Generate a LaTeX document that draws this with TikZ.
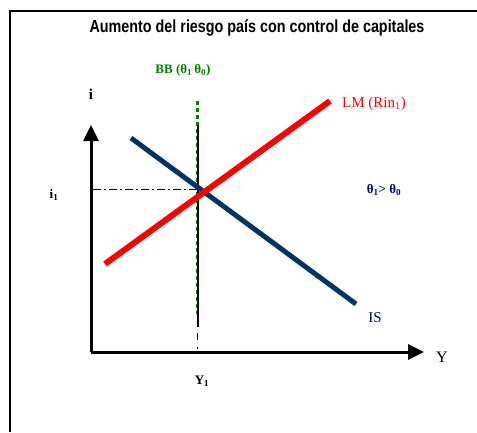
\documentclass[tikz,border=0pt]{standalone}
\usepackage{fontspec}
\setmainfont{Liberation Serif}
\newfontfamily\titlefont[FakeStretch=0.82]{Liberation Sans}
\usetikzlibrary{arrows.meta}
\definecolor{isblue}{RGB}{0,51,102}
\definecolor{navytext}{RGB}{0,0,128}
\definecolor{bbgreen}{RGB}{0,128,0}
\tikzset{
  axis/.style={line width=3pt,-{Triangle[length=16pt,width=15pt]}},
  lbl/.style={inner sep=0pt,font=\fontsize{15}{17}\selectfont},
  blbl/.style={inner sep=0pt,font=\fontsize{13}{15}\selectfont\bfseries}
}
\begin{document}
\begin{tikzpicture}[x=1pt,y=-1pt]
\useasboundingbox (0,0) rectangle (477,432);
\fill[white] (0,0) rectangle (477,432);
% frame
\draw[line width=2pt] (10,432) -- (10,11) -- (477,11);
\node[inner sep=0pt,font=\titlefont\bfseries\fontsize{17.5}{19}\selectfont] (title) at (257,28) {Aumento del riesgo país con control de capitales};
% axes
\coordinate (O) at (91,352);
\coordinate (ytip) at (91,125);
\coordinate (xtip) at (424,352);
\draw[axis] (O) -- (ytip);
\draw[axis] (O) -- (xtip);
\node[inner sep=0pt,font=\fontsize{15}{17}\selectfont\bfseries] (ilab) at (91,94) {i};
\node[inner sep=0pt,font=\fontsize{16}{18}\selectfont] (ylab) at (442,357) {Y};
% BB line
\coordinate (bbtop) at (197.5,101);
\coordinate (bbbot) at (197.5,314);
\coordinate (vtop) at (197.8,125);
\coordinate (vbot) at (197.8,327);
\coordinate (vend) at (197.8,350);
\draw[bbgreen,line width=3pt,dash pattern=on 3.5pt off 3.5pt] (bbtop) -- (bbbot);
\draw[black,line width=1.5pt] (vtop) -- (vbot);
\draw[black,line width=1.2pt,dash pattern=on 7pt off 7pt on 1.5pt off 10pt] ([yshift=-6pt]vbot) -- (vend);
% dash-dot horizontal
\coordinate (hl) at (93,189);
\coordinate (hr) at (198,189);
\draw[line width=1pt,dash pattern=on 8pt off 3pt on 2pt off 3pt] (hl) -- (hr);
% LM and IS
\coordinate (lma) at (105,264);
\coordinate (lmb) at (330,101);
\coordinate (isa) at (131,138);
\coordinate (isb) at (356,304);
\draw[isblue,line width=5pt] (isa) -- (isb);
\draw[red,line width=6pt] (lma) -- (lmb);
% labels
\node[blbl,text=bbgreen] (bblab) at (183,70) {BB (θ\textsubscript{1}\,θ\textsubscript{0})};
\node[lbl,text=red,anchor=west] (lmlab) at (342,104) {LM (Rin\textsubscript{1})};
\node[blbl,text=navytext] (thlab) at (384,190) {θ\textsubscript{1}> θ\textsubscript{0}};
\node[lbl,text=navytext] (islab) at (375,318) {IS};
\node[blbl] (i1lab) at (54,195) {i\textsubscript{1}};
\node[blbl] (y1lab) at (202,381) {Y\textsubscript{1}};
\end{tikzpicture}
\end{document}
